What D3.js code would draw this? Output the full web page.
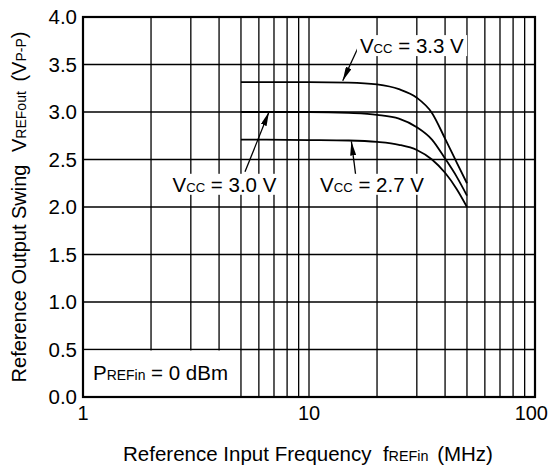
<!DOCTYPE html>
<html>
<head>
<meta charset="utf-8">
<script src="https://cdn.jsdelivr.net/npm/d3@7/dist/d3.min.js"></script>
<style>
  html, body { margin: 0; padding: 0; background: #fff; }
  svg { display: block; font-family: 'Liberation Sans', Arial, sans-serif; }
  text { white-space: pre; }
</style>
</head>
<body>
<div id="chart"></div>
<script>
// frequency (MHz) and output swing (Vp-p)
const freq = [5, 10, 15, 20, 25, 30, 35, 40, 45, 50];
const vcc33 = [3.315, 3.315, 3.31, 3.29, 3.24, 3.15, 2.99, 2.72, 2.47, 2.25];
const vcc30 = [3.0, 3.0, 2.99, 2.97, 2.93, 2.84, 2.71, 2.51, 2.32, 2.12];
const vcc27 = [2.71, 2.705, 2.70, 2.685, 2.655, 2.60, 2.50, 2.36, 2.19, 2.0];

const yTicks = [0, 0.5, 1.0, 1.5, 2.0, 2.5, 3.0, 3.5, 4.0];
const xTickLabels = [1, 10, 100];
const xGrid = [2, 3, 4, 5, 6, 7, 8, 9, 10, 20, 30, 40, 50, 60, 70, 80, 90];

// annotations: text anchor point, arrow tail, arrow tip (data units)
const notes = [
  { val: ' = 3.3 V', at: [16.8, 3.62], tail: [16.5, 3.68], tip: [14.1, 3.33] },
  { val: ' = 3.0 V', at: [2.49, 2.16], tail: [5.21, 2.37], tip: [6.65, 3.0] },
  { val: ' = 2.7 V', at: [11.2, 2.16], tail: [16.1, 2.33], tip: [15.4, 2.69] }
];

const width = 550;
const height = 468;
const margin = { top: 17, right: 15, bottom: 71, left: 83 };
const chartWidth = width - margin.left - margin.right;
const chartHeight = height - margin.top - margin.bottom;

const svg = d3.select('#chart').append('svg')
  .attr('width', width)
  .attr('height', height);

const g = svg.append('g').attr('transform', `translate(${margin.left},${margin.top})`);

const xScale = d3.scaleLog().domain([1, 100]).range([0, chartWidth]);
const yScale = d3.scaleLinear().domain([0, 4]).range([chartHeight, 0]);

// grid
g.selectAll('.vgrid')
  .data(xGrid)
  .enter().append('line')
  .attr('x1', (d) => xScale(d))
  .attr('x2', (d) => xScale(d))
  .attr('y1', 0)
  .attr('y2', chartHeight)
  .attr('stroke', '#000')
  .attr('stroke-width', 1.3);

g.selectAll('.hgrid')
  .data(yTicks)
  .enter().append('line')
  .attr('x1', 0)
  .attr('x2', chartWidth)
  .attr('y1', (d) => yScale(d))
  .attr('y2', (d) => yScale(d))
  .attr('stroke', '#000')
  .attr('stroke-width', 1.3);

// curves
const line = d3.line()
  .x((d) => xScale(d[0]))
  .y((d) => yScale(d[1]))
  .curve(d3.curveMonotoneX);

[vcc33, vcc30, vcc27].forEach((series) => {
  g.append('path')
    .datum(d3.zip(freq, series))
    .attr('fill', 'none')
    .attr('stroke', '#000')
    .attr('stroke-width', 1.8)
    .attr('d', line);
});

// V + small subscript + rest, on a white box
function label(parent, x, y, main, sub, rest, size) {
  const grp = parent.append('g');
  const t = grp.append('text')
    .attr('x', x)
    .attr('y', y)
    .attr('font-size', size)
    .attr('fill', '#000');
  t.append('tspan').text(main);
  t.append('tspan').attr('font-size', size * 0.64).text(sub);
  t.append('tspan').text(rest);
  const bb = t.node().getBBox();
  grp.insert('rect', 'text')
    .attr('x', bb.x - 3)
    .attr('y', bb.y + 1)
    .attr('width', bb.width + 6)
    .attr('height', bb.height - 2)
    .attr('fill', '#fff');
  return grp;
}

svg.append('defs').append('marker')
  .attr('id', 'arrow')
  .attr('viewBox', '0 0 14 6')
  .attr('refX', 14)
  .attr('refY', 3)
  .attr('markerWidth', 14)
  .attr('markerHeight', 6)
  .attr('markerUnits', 'userSpaceOnUse')
  .attr('orient', 'auto')
  .append('path')
  .attr('d', 'M0,0 L14,3 L0,6 Z')
  .attr('fill', '#000');

notes.forEach((n) => {
  g.append('line')
    .attr('x1', xScale(n.tail[0]))
    .attr('y1', yScale(n.tail[1]))
    .attr('x2', xScale(n.tip[0]))
    .attr('y2', yScale(n.tip[1]))
    .attr('stroke', '#000')
    .attr('stroke-width', 1.3)
    .attr('marker-end', 'url(#arrow)');
  label(g, xScale(n.at[0]), yScale(n.at[1]), 'V', 'CC', n.val, 20.5);
});

// PREFin box, covers grid between 1..5 MHz below 0.5 V
g.append('rect')
  .attr('x', 0)
  .attr('y', yScale(0.5) + 1)
  .attr('width', xScale(5) - 1)
  .attr('height', yScale(0) - yScale(0.5) - 1)
  .attr('fill', '#fff');
const pt = g.append('text')
  .attr('x', xScale(1.107))
  .attr('y', yScale(0.176))
  .attr('font-size', 20.5);
pt.append('tspan').text('P');
pt.append('tspan').attr('font-size', 20.5 * 0.68).text('REFin');
pt.append('tspan').text(' = 0 dBm');

// frame
g.append('rect')
  .attr('x', 0)
  .attr('y', 0)
  .attr('width', chartWidth)
  .attr('height', chartHeight)
  .attr('fill', 'none')
  .attr('stroke', '#000')
  .attr('stroke-width', 2.2);

// tick labels
g.selectAll('.ylab')
  .data(yTicks)
  .enter().append('text')
  .attr('x', -6)
  .attr('y', (d) => yScale(d))
  .attr('dy', '0.36em')
  .attr('text-anchor', 'end')
  .attr('font-size', 20.5)
  .text((d) => d.toFixed(1));

g.selectAll('.xlab')
  .data(xTickLabels)
  .enter().append('text')
  .attr('x', (d, i) => xScale(d) + (i === xTickLabels.length - 1 ? 13 : 0))
  .attr('y', chartHeight + 23)
  .attr('text-anchor', (d, i) => (i === xTickLabels.length - 1 ? 'end' : 'middle'))
  .attr('font-size', 20)
  .text((d) => d);

// axis titles
const tSize = 20.5;
const xt = svg.append('text')
  .attr('x', margin.left + chartWidth / 2 - 1)
  .attr('y', 461)
  .attr('text-anchor', 'middle')
  .attr('font-size', tSize);
xt.append('tspan').text('Reference Input Frequency  f');
xt.append('tspan').attr('font-size', tSize * 0.7).text('REFin');
xt.append('tspan').attr('dx', 3).text(' (MHz)');

const yt = svg.append('text')
  .attr('transform', `translate(26,${margin.top + chartHeight / 2}) rotate(-90)`)
  .attr('text-anchor', 'middle')
  .attr('font-size', 20);
yt.append('tspan').text('Reference Output Swing ');
yt.append('tspan').attr('dx', 7).text('V');
yt.append('tspan').attr('font-size', 20 * 0.7).text('REFout');
yt.append('tspan').attr('dx', 4).text(' (V');
yt.append('tspan').attr('font-size', 20 * 0.7).text('P-P');
yt.append('tspan').text(')');
</script>
</body>
</html>
